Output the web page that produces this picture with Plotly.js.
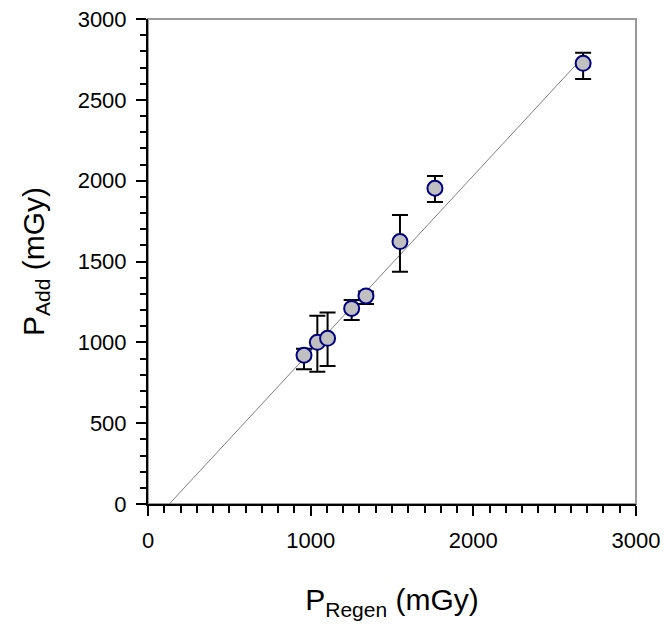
<!DOCTYPE html>
<html>
<head>
<meta charset="utf-8">
<script src="https://cdn.plot.ly/plotly-3.0.1.min.js"></script>
<style>html,body{margin:0;padding:0;background:#fff;}#chart{width:670px;height:636px;}</style>
</head>
<body>
<div id="chart"></div>
<script>
// Data
var pRegen = [959, 1041, 1104, 1252, 1340, 1549, 1764, 2675];
var pAdd = [920, 1000, 1025, 1210, 1287, 1623, 1953, 2726];
var errPlus = [40, 165, 160, 52, 28, 165, 76, 66];
var errMinus = [87, 182, 171, 72, 50, 186, 85, 97];
var fitX = [131, 2680];
var fitY = [0, 2770];

var traces = [
  {
    x: fitX, y: fitY, mode: 'lines', type: 'scatter',
    line: {color: '#808080', width: 1}, hoverinfo: 'skip', showlegend: false
  },
  {
    x: pRegen, y: pAdd, mode: 'markers', type: 'scatter', showlegend: false,
    marker: {size: 15, color: '#c0c0c0', line: {color: '#000080', width: 2}},
    error_y: {type: 'data', symmetric: false, array: errPlus, arrayminus: errMinus,
              color: '#000000', thickness: 2, width: 8}
  }
];

var font = {family: 'Liberation Sans, Arial, sans-serif', color: '#000'};

var layout = {
  width: 670, height: 636,
  margin: {l: 148, r: 34, t: 19, b: 132},
  paper_bgcolor: '#fff', plot_bgcolor: '#fff',
  font: font,
  showlegend: false,
  xaxis: {
    range: [0, 3000], tickvals: [0, 1000, 2000, 3000], ticktext: ['0', '1000', '2000', '3000'],
    showgrid: false, zeroline: false, showline: true, linecolor: '#000', linewidth: 2,
    ticks: 'outside', ticklen: 10, tickwidth: 2, tickcolor: '#000',
    ticklabelstandoff: 6,
    minor: {dtick: 100, tick0: 0, ticks: 'outside', ticklen: 7, tickwidth: 2, tickcolor: '#000', showgrid: false},
    tickfont: {family: font.family, size: 22, color: '#000'},
    title: {text: 'P<sub>Regen</sub> (mGy)', font: {family: font.family, size: 30, color: '#000'}, standoff: 37}
  },
  yaxis: {
    range: [0, 3000], tickvals: [0, 500, 1000, 1500, 2000, 2500, 3000],
    ticktext: ['0', '500', '1000', '1500', '2000', '2500', '3000'],
    showgrid: false, zeroline: false, showline: true, linecolor: '#000', linewidth: 2,
    ticks: 'outside', ticklen: 10, tickwidth: 2, tickcolor: '#000',
    ticklabelstandoff: 5,
    minor: {dtick: 100, tick0: 0, ticks: 'outside', ticklen: 6, tickwidth: 2, tickcolor: '#000', showgrid: false},
    tickfont: {family: font.family, size: 22, color: '#000'},
    title: {text: 'P<sub>Add</sub> (mGy)', font: {family: font.family, size: 30, color: '#000'}, standoff: 24}
  },
  shapes: [
    {type: 'rect', xref: 'paper', yref: 'paper', x0: 0, x1: 1, y0: 0, y1: 1,
     line: {color: '#999999', width: 2}, layer: 'below'}
  ]
};

Plotly.newPlot('chart', traces, layout, {displayModeBar: false, staticPlot: true});
</script>
</body>
</html>
